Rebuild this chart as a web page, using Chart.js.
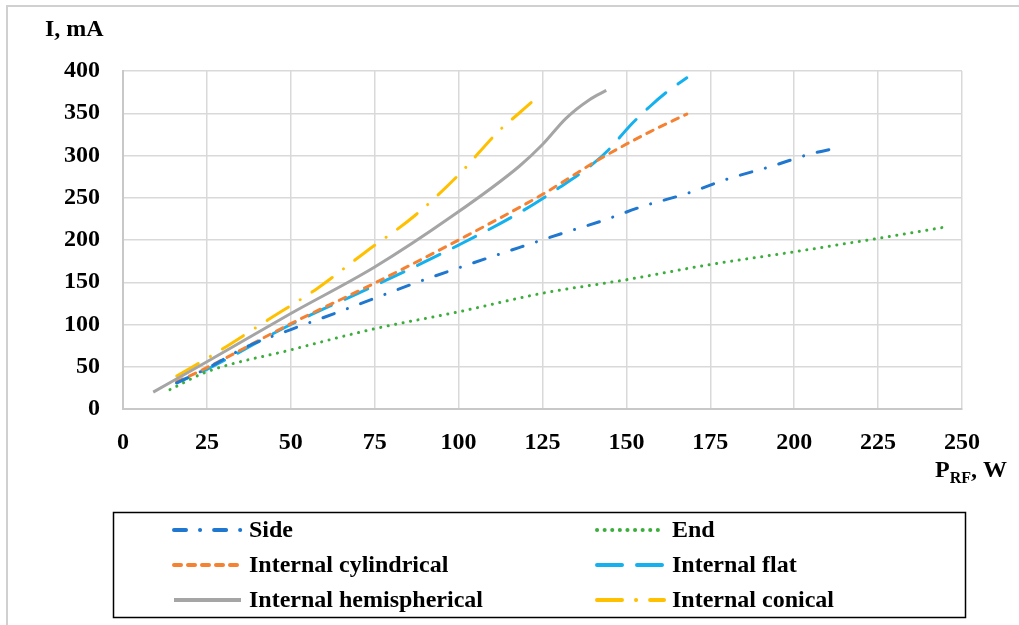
<!DOCTYPE html>
<html>
<head>
<meta charset="utf-8">
<script src="https://cdn.jsdelivr.net/npm/chart.js@4/dist/chart.umd.min.js"></script>
<style>
  html, body { margin: 0; padding: 0; background: #fff; }
  #wrap { position: relative; width: 1019px; height: 625px; }
</style>
</head>
<body>
<div id="wrap"><canvas id="chart" width="1019" height="625"></canvas></div>
<script>
// values: P_RF (W) -> I (mA)
var sideX = [16, 25, 37, 50, 63, 75, 87, 100, 118, 131, 143, 155, 168, 180, 193, 205, 214];
var sideY = [31, 48, 74, 94, 113, 131, 149, 167, 191, 208, 223, 240, 255, 272, 287, 302, 310];

var endX = [14, 25, 50, 75, 100, 125, 150, 175, 200, 225, 246];
var endY = [23, 44, 70, 95, 115, 137, 153, 171, 186, 202, 216];

var cylX = [16, 25, 50, 75, 100, 125, 143, 157, 168];
var cylY = [32, 49, 101, 149, 200, 254, 298, 328, 349];

var flatX = [16, 25, 50, 75, 100, 118, 130, 140, 145, 151, 157, 162, 168];
var flatY = [31, 47, 100, 146, 194, 232, 262, 290, 308, 335, 358, 375, 392];

var hemiX = [9, 25, 50, 75, 98, 118, 125, 132, 139, 144];
var hemiY = [20, 56, 113, 168, 228, 287, 313, 344, 366, 377];

var conX = [16, 28, 43, 58, 72, 87, 100, 112, 118, 122];
var conY = [39, 67, 105, 143, 185, 229, 277, 329, 350, 364];

var seriesNames = ["Side", "End", "Internal cylindrical", "Internal flat", "Internal hemispherical", "Internal conical"];
var xTicks = [0, 25, 50, 75, 100, 125, 150, 175, 200, 225, 250];
var yTicks = [0, 50, 100, 150, 200, 250, 300, 350, 400];

var FONT = "'Liberation Serif', 'Times New Roman', serif";
var FS = 24;

function pts(xs, ys) {
  var out = [];
  for (var i = 0; i < xs.length; i++) out.push({x: xs[i], y: ys[i]});
  return out;
}

function ds(name, xs, ys, color, dash, offset) {
  return {
    label: name,
    data: pts(xs, ys),
    borderColor: color,
    backgroundColor: color,
    borderWidth: 3,
    borderDash: dash,
    borderDashOffset: offset || 0,
    borderCapStyle: dash.length ? 'round' : 'butt',
    pointRadius: 0,
    cubicInterpolationMode: 'monotone',
    fill: false
  };
}

var datasets = [
  ds(seriesNames[0], sideX, sideY, "#1F77CF", [12, 14, 0.1, 14]),
  ds(seriesNames[1], endX, endY, "#3DAE3D", [0.1, 7.5]),
  ds(seriesNames[2], cylX, cylY, "#F58232", [7, 7]),
  ds(seriesNames[3], flatX, flatY, "#14B1EE", [25, 15], 12),
  ds(seriesNames[4], hemiX, hemiY, "#A5A5A5", []),
  ds(seriesNames[5], conX, conY, "#FFC000", [25, 14, 0.1, 14])
];

// frame, axis titles and the boxed two-column legend
var extras = {
  id: 'extras',
  beforeDraw: function (chart) {
    var c = chart.ctx;
    c.save();
    c.strokeStyle = "#d0d0d0";
    c.lineWidth = 2;
    c.beginPath();
    c.moveTo(7, 640);
    c.lineTo(7, 6);
    c.lineTo(1030, 6);
    c.stroke();
    c.restore();
  },
  afterDraw: function (chart) {
    var c = chart.ctx;
    c.save();
    c.fillStyle = "#000";
    c.textBaseline = "alphabetic";
    c.font = "bold " + FS + "px " + FONT;
    c.textAlign = "left";
    c.fillText("I, mA", 45, 36);
    var px = 935;
    c.fillText("P", px, 477);
    var pw = c.measureText("P").width;
    c.font = "bold 16px " + FONT;
    c.fillText("RF", px + pw, 483);
    var rw = c.measureText("RF").width;
    c.font = "bold " + FS + "px " + FONT;
    c.fillText(", W", px + pw + rw, 477);

    // legend box
    c.strokeStyle = "#000";
    c.lineWidth = 1.5;
    c.strokeRect(113.5, 512.5, 852, 105);
    var cols = [172, 595];
    var rows = [530, 565, 600];
    c.textBaseline = "middle";
    for (var i = 0; i < chart.data.datasets.length; i++) {
      var d = chart.data.datasets[i];
      var x0 = cols[i % 2], y = rows[Math.floor(i / 2)];
      c.strokeStyle = d.borderColor;
      c.lineWidth = 4;
      c.lineCap = d.borderDash.length ? 'round' : 'butt';
      c.setLineDash(d.borderDash);
      c.beginPath();
      c.moveTo(x0 + 2, y);
      c.lineTo(x0 + 69, y);
      c.stroke();
      c.setLineDash([]);
      c.fillStyle = "#000";
      c.fillText(d.label, x0 + 77, y + 1);
    }
    c.restore();
  }
};

new Chart(document.getElementById("chart"), {
  type: 'line',
  data: { datasets: datasets },
  plugins: [extras],
  options: {
    responsive: false,
    animation: false,
    layout: { padding: { left: 0, top: 71, right: 57, bottom: 0 } },
    plugins: { legend: { display: false }, tooltip: { enabled: false } },
    scales: {
      x: {
        type: 'linear',
        min: 0, max: 250,
        afterBuildTicks: function (s) { s.ticks = xTicks.map(function (v) { return {value: v}; }); },
        afterFit: function (s) { s.height = 216; },
        grid: { color: "#d9d9d9", lineWidth: 1.5, drawTicks: false },
        border: { color: "#c8c8c8", width: 2 },
        ticks: { color: "#000", font: { family: FONT, size: FS, weight: 'bold' }, padding: 19, maxRotation: 0 }
      },
      y: {
        type: 'linear',
        min: 0, max: 400,
        afterBuildTicks: function (s) { s.ticks = yTicks.map(function (v) { return {value: v}; }); },
        afterFit: function (s) { s.width = 123; },
        grid: { color: "#d9d9d9", lineWidth: 1.5, drawTicks: false },
        border: { color: "#c8c8c8", width: 2 },
        ticks: { color: "#000", font: { family: FONT, size: FS, weight: 'bold' }, padding: 23 }
      }
    }
  }
});
</script>
</body>
</html>
